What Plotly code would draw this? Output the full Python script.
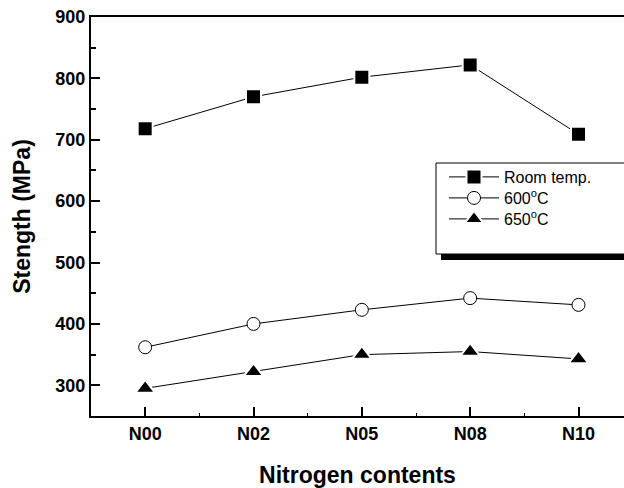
import plotly.graph_objects as go

categories = ["N00", "N02", "N05", "N08", "N10"]
room_temp = [718, 770, 802, 822, 709]
t600 = [362, 400, 423, 442, 431]
t650 = [295, 322, 350, 355, 343]
y_ticks = [300, 400, 500, 600, 700, 800, 900]

W, H = 624, 488
L, R, T, B = 91, 0, 17, 72
pw, ph = W - L - R, H - T - B

def px_x(p):
    return (p - L) / pw

def px_y(p):
    return (H - B - p) / ph

xs = list(range(len(categories)))
FONT = "Liberation Sans, Arial, sans-serif"

fig = go.Figure()
fig.add_trace(go.Scatter(
    x=xs, y=room_temp, name="Room temp.", mode="lines+markers", legend="legend",
    line=dict(color="black", width=1),
    marker=dict(symbol="square", size=15, color="black", line=dict(color="white", width=2)),
))
fig.add_trace(go.Scatter(
    x=xs, y=t600, name="600<sup>o</sup>C", mode="lines+markers", legend="legend2",
    line=dict(color="black", width=1),
    marker=dict(symbol="circle", size=13, color="white", line=dict(color="black", width=1)),
))
fig.add_trace(go.Scatter(
    x=xs, y=t650, name="650<sup>o</sup>C", mode="lines+markers", legend="legend3",
    line=dict(color="black", width=1),
    marker=dict(symbol="triangle-up", size=17, color="black", line=dict(color="white", width=2)),
))

# legend frame with drop shadow
fig.add_shape(type="rect", xref="paper", yref="paper",
              x0=px_x(441), x1=px_x(640), y0=px_y(260), y1=px_y(168),
              fillcolor="black", line=dict(width=0), layer="above")
fig.add_shape(type="rect", xref="paper", yref="paper",
              x0=px_x(436), x1=px_x(640), y0=px_y(254), y1=px_y(163),
              fillcolor="white", line=dict(color="black", width=1), layer="above")

def leg(row_py):
    return dict(
        x=px_x(444), y=px_y(row_py), xanchor="left", yanchor="middle",
        bgcolor="rgba(0,0,0,0)", borderwidth=0,
        font=dict(family=FONT, size=16, color="black"),
        itemwidth=50,
    )

fig.update_layout(
    width=W, height=H,
    margin=dict(l=L, r=R, t=T, b=B, pad=0),
    paper_bgcolor="white", plot_bgcolor="white",
    font=dict(family=FONT, color="black"),
    showlegend=True,
    legend=leg(177), legend2=leg(198), legend3=leg(219),
    xaxis=dict(
        range=[-0.5, 4.42],
        tickmode="array", tickvals=xs, ticktext=categories,
        ticks="inside", ticklen=9, tickwidth=1.5, tickcolor="black",
        showline=True, linewidth=2, linecolor="black", mirror=True,
        showgrid=False, zeroline=False,
        tickfont=dict(family=FONT, size=18, color="black", weight="bold"),
        minor=dict(tickvals=[0.5, 1.5, 2.5, 3.5], ticks="inside", ticklen=3,
                   tickwidth=1, tickcolor="black", showgrid=False),
        title=dict(text="<b>Nitrogen contents</b>", font=dict(family=FONT, size=23), standoff=25),
    ),
    yaxis=dict(
        range=[250, 900],
        tickmode="array", tickvals=y_ticks,
        ticks="inside", ticklen=9, tickwidth=1.5, tickcolor="black",
        showline=True, linewidth=2, linecolor="black", mirror=False,
        showgrid=False, zeroline=False,
        tickfont=dict(family=FONT, size=18, color="black", weight="bold"),
        minor=dict(tickvals=[350, 450, 550, 650, 750, 850], ticks="inside", ticklen=5,
                   tickwidth=1.5, tickcolor="black", showgrid=False),
        title=dict(text="<b>Stength (MPa)</b>", font=dict(family=FONT, size=23), standoff=18),
    ),
)

fig.write_html("out.html")
